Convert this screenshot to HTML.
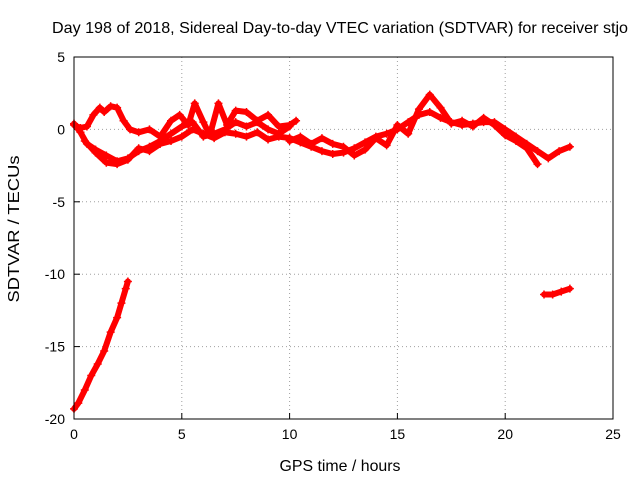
<!DOCTYPE html>
<html><head><meta charset="utf-8"><style>
body{margin:0;background:#fff;width:640px;height:480px;overflow:hidden}
text{font-family:"Liberation Sans",sans-serif;font-size:14px;fill:#000}
.big{font-size:16px}
</style></head><body>
<svg id="chart" width="640" height="480">
<text class="big" x="340" y="33" text-anchor="middle" textLength="576" lengthAdjust="spacingAndGlyphs">Day 198 of 2018, Sidereal Day-to-day VTEC variation (SDTVAR) for receiver stjo</text>
<g id="grid"></g>
<g id="ticks"></g>
<g id="series"></g>
<rect x="74" y="57" width="539" height="362" fill="none" stroke="#000"/>
<text class="big" x="340" y="471" text-anchor="middle" textLength="121" lengthAdjust="spacingAndGlyphs">GPS time / hours</text>
<text class="big" transform="translate(19,229) rotate(-90)" text-anchor="middle" textLength="147" lengthAdjust="spacingAndGlyphs">SDTVAR / TECUs</text>
</svg>
<script>
const xTicks=[0,5,10,15,20,25];
const yTicks=[5,0,-5,-10,-15,-20];
const trackAx=[0,0.2,0.5,0.8,1.1,1.4,1.7,2.0,2.2,2.4,2.5];
const trackAy=[-19.3,-18.9,-18.0,-17.0,-16.2,-15.3,-14.0,-13.0,-12.0,-11.0,-10.5];
const trackBx=[21.8,22.2,22.6,23.0];
const trackBy=[-11.4,-11.4,-11.2,-11.0];
const trackCx=[0,0.3,0.6,1.0,1.5,2.0,2.5,3.0,3.5,4.0,4.5,5.0,5.5,6.0,6.5,7.0,7.5,8.0,8.5,9.0,9.5,10.0];
const trackCy=[0.4,-0.2,-1.0,-1.4,-1.8,-2.2,-2.0,-1.5,-1.2,-0.8,-0.3,0.2,0.5,-0.5,-0.3,0.0,0.5,0.2,0.5,0.0,-0.3,0.2];
const trackDx=[0,0.3,0.6,0.9,1.2,1.4,1.7,2.0,2.3,2.6,3.0,3.5,4.0,4.5,4.9,5.3,5.6,6.0,6.3,6.7,7.1,7.5,8.0,8.5,9.0,9.5,10.0,10.3];
const trackDy=[0.3,0.1,0.2,1.0,1.5,1.2,1.6,1.5,0.6,0.0,-0.2,0.0,-0.5,0.6,1.0,0.3,1.8,0.5,-0.4,1.8,0.3,1.3,1.2,0.6,1.0,0.2,0.3,0.6];
const trackEx=[0.5,1.0,1.5,2.0,2.5,3.0,3.5,4.0,4.5,5.0,5.5,6.0,6.5,7.0,7.5,8.0,8.5,9.0,9.5,10.0];
const trackEy=[-0.8,-1.6,-2.3,-2.4,-2.1,-1.3,-1.5,-1.0,-0.8,-0.5,0.0,-0.3,-0.6,-0.2,-0.3,-0.5,-0.2,-0.7,-0.5,-0.6];
const trackFx=[10.0,10.5,11.0,11.5,12.0,12.5,13.0,13.5,14.0,14.5,15.0,15.5,16.0,16.5,17.0,17.5,18.0,18.5,19.0,19.5,20.0,20.5,21.0,21.5,22.0,22.5,23.0];
const trackFy=[-0.6,-0.9,-1.2,-1.5,-1.7,-1.6,-1.3,-0.9,-0.5,-0.3,0.0,0.5,1.0,1.2,0.8,0.5,0.3,0.4,0.5,0.5,0.0,-0.5,-1.0,-1.5,-2.0,-1.5,-1.2];
const trackGx=[10.0,10.5,11.0,11.5,12.0,12.5,13.0,13.5,14.0,14.5,15.0,15.5,16.0,16.5,17.0,17.5,18.0,18.5,19.0,19.5,20.0,20.5,21.0,21.5];
const trackGy=[-0.8,-0.5,-1.0,-0.6,-1.0,-1.2,-1.8,-1.4,-0.6,-1.1,0.3,-0.3,1.4,2.4,1.5,0.4,0.6,0.2,0.8,0.3,-0.4,-0.8,-1.3,-2.4];
const series=[[trackAx,trackAy],[trackBx,trackBy],[trackCx,trackCy],[trackDx,trackDy],[trackEx,trackEy],[trackFx,trackFy],[trackGx,trackGy]];
const L=74,R=613,T=57,B=419;
const sx=v=>L+(v-0)/25*(R-L);
const sy=v=>T+(5-v)/25*(B-T);
const NS="http://www.w3.org/2000/svg";
const grid=document.getElementById('grid'),ticks=document.getElementById('ticks'),sg=document.getElementById('series');
function mk(tag,attrs,parent){const e=document.createElementNS(NS,tag);for(const k in attrs)e.setAttribute(k,attrs[k]);parent.appendChild(e);return e;}
xTicks.forEach(v=>{const x=sx(v);
 if(v>0&&v<25){const g=mk('line',{x1:x,x2:x,y1:T,y2:B,stroke:'#a0a0a0','stroke-dasharray':'1,3'},grid);
 
 }
 const t=mk('line',{x1:x,x2:x,y1:B,y2:B-6,stroke:'#000'},ticks);
 
 
 const l=mk('text',{x:x,y:B+20,'text-anchor':'middle'},ticks);l.textContent=v;
 
 });
yTicks.forEach(v=>{const y=sy(v);
 if(v<5&&v>-20){const g=mk('line',{x1:L,x2:R,y1:y,y2:y,stroke:'#a0a0a0','stroke-dasharray':'1,3'},grid);
 
 }
 const t=mk('line',{x1:L,x2:L+6,y1:y,y2:y,stroke:'#000'},ticks);
 
 
 const l=mk('text',{x:L-9,y:y+5,'text-anchor':'end'},ticks);l.textContent=v;
 
 });
series.forEach(([xs,ys],i)=>{
 const pts=xs.map((x,j)=>sx(x)+','+sy(ys[j])).join(' ');
 const p=mk('polyline',{points:pts,fill:'none',stroke:'#f00','stroke-width':6,'stroke-linejoin':'round','stroke-linecap':'round'},sg);
 
 
 xs.forEach((x,j)=>{const cx=sx(x),cy=sy(ys[j]);
  const m=mk('path',{d:`M${cx-4},${cy}H${cx+4}M${cx},${cy-4}V${cy+4}`,stroke:'#f00','stroke-width':1.5},sg);
  
  });
});
</script>
</body></html>
